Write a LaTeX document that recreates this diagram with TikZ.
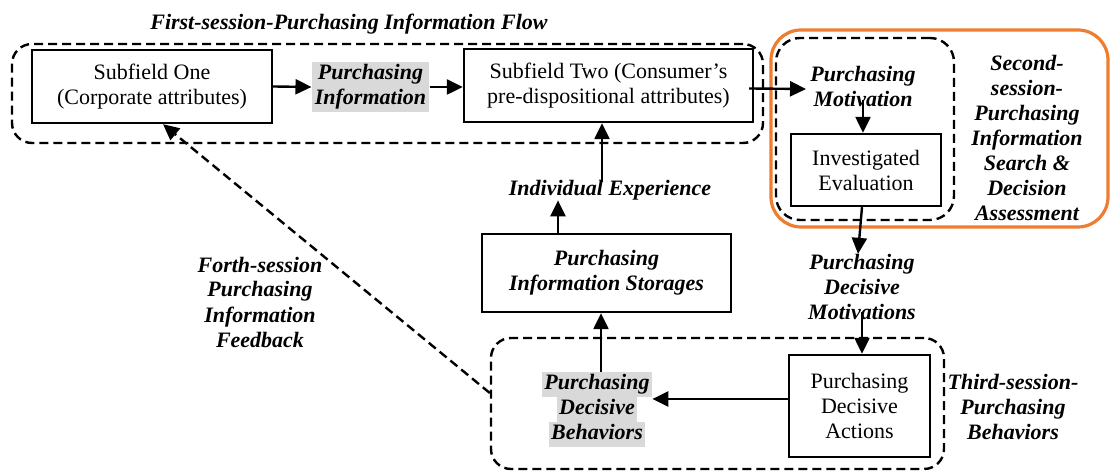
\documentclass[tikz,border=0pt]{standalone}
\usepackage{fontspec}
\setmainfont{Liberation Serif}
\usetikzlibrary{arrows.meta}

\definecolor{hlgray}{RGB}{217,217,217}
\definecolor{sessorange}{RGB}{237,125,49}
% grey highlight behind one line of text
\newcommand{\hilite}[1]{{\setlength{\fboxsep}{0pt}\colorbox{hlgray}{\strut\kern1.2pt#1\kern1.2pt}}}

\begin{document}
\begin{tikzpicture}[x=0.5pt, y=-0.5pt, align=center,
    font=\fontsize{11pt}{12.5pt}\selectfont,
    box/.style={draw, line width=1.2pt, inner sep=0pt},
    lbl/.style={font=\fontsize{11pt}{12.5pt}\selectfont\bfseries\itshape, inner sep=1pt},
    grp/.style={draw, line width=1.2pt, dash pattern=on 4.5pt off 2.5pt, rounded corners=10pt, inner sep=0pt},
    arr/.style={line width=1.2pt, -{Triangle[length=8pt,width=7.5pt]}}]
    \useasboundingbox (0,0) rectangle (1110,474);

    % Session frames
    \node[grp, minimum width=375.5pt, minimum height=49.5pt] (firstgrp) at (387.5,93.5) {};
    \node[draw=sessorange, line width=1.6pt, rounded corners=15pt, inner sep=0pt,
          minimum width=168.5pt, minimum height=98.5pt] (orangegrp) at (939.5,128.5) {};
    \node[grp, rounded corners=12pt, minimum width=89pt, minimum height=91pt] (secondgrp) at (865,129) {};
    \node[grp, minimum width=226.5pt, minimum height=65.5pt] (thirdgrp) at (717.5,403.5) {};

    % Session labels
    \node[lbl] (flowtitle) at (349,24) {First-session-Purchasing Information Flow};
    \node[lbl] (secondlbl) at (1027,138) {Second-\\session-\\Purchasing\\Information\\Search \&\\Decision\\Assessment};
    \node[lbl] (thirdlbl) at (1013,407) {Third-session-\\Purchasing\\Behaviors};
    \node[lbl] (forthlbl) at (260,302) {Forth-session\\Purchasing\\Information\\Feedback};

    % Boxes
    \node[box, minimum width=120pt, minimum height=36.5pt] (sfone) at (152,86.5) {Subfield One\\(Corporate attributes)};
    \node[box, minimum width=144.5pt, minimum height=36.5pt] (sftwo) at (608.5,85.5) {Subfield Two (Consumer’s\\pre-dispositional attributes)};
    \node[box, minimum width=75pt, minimum height=36pt] (invest) at (866,170) {Investigated\\Evaluation};
    \node[box, minimum width=124.5pt, minimum height=39pt, font=\fontsize{11pt}{12.5pt}\selectfont\bfseries\itshape] (storage) at (606.5,273) {Purchasing\\Information Storages};
    \node[box, minimum width=70.5pt, minimum height=51pt] (actions) at (859.5,406) {Purchasing\\Decisive\\Actions};

    % Flow labels
    \node[lbl, fill=hlgray, inner sep=1.5pt] (pinfo) at (370.5,87) {Purchasing\\Information};
    \node[lbl] (pmotiv) at (863,86) {Purchasing\\Motivation};
    \node[lbl, inner sep=0pt] (indexp) at (610,190) {Individual Experience};
    \node[lbl, inner sep=0pt] (pdmotiv) at (862,287) {Purchasing\\Decisive\\Motivations};
    \node[lbl, inner sep=0pt] (pdbehav) at (597,410) {\hilite{Purchasing}\\\hilite{Decisive}\\\hilite{Behaviors}};

    % Arrows
    \draw[arr] (sfone.east) -- (pinfo.west);
    \draw[arr] (pinfo.east) -- (pinfo.east -| sftwo.west);
    \draw[arr] ([xshift=-2.5pt,yshift=-1.5pt]sftwo.east) -- ([xshift=-1pt,yshift=-1.5pt]pmotiv.west);
    \draw[arr] ([yshift=4.5pt]pmotiv.south) -- (pmotiv.south |- invest.north);
    \draw[arr] ([xshift=-2pt]invest.south) -- ([xshift=-2pt]pdmotiv.north);
    \draw[arr] ([yshift=4pt]pdmotiv.south) -- (pdmotiv.south |- actions.north);
    \draw[arr] ([yshift=3.5pt]actions.west) -- ([yshift=3.5pt]actions.west -| pdbehav.east);
    \draw[arr] ([xshift=2pt]pdbehav.north) -- ([xshift=2pt]pdbehav.north |- storage.south);
    \draw[arr] ([xshift=-24.25pt]storage.north) -- ([xshift=-24.25pt]storage.north |- indexp.south);
    \draw[arr] ([xshift=-4pt,yshift=-1pt]indexp.north) -- ([xshift=-4pt]indexp.north |- sftwo.south);

    % Feedback line
    \draw[arr, dash pattern=on 4.5pt off 2.5pt] ([yshift=5.25pt]thirdgrp.west) -- ([xshift=5.5pt]sfone.south);
\end{tikzpicture}
\end{document}
